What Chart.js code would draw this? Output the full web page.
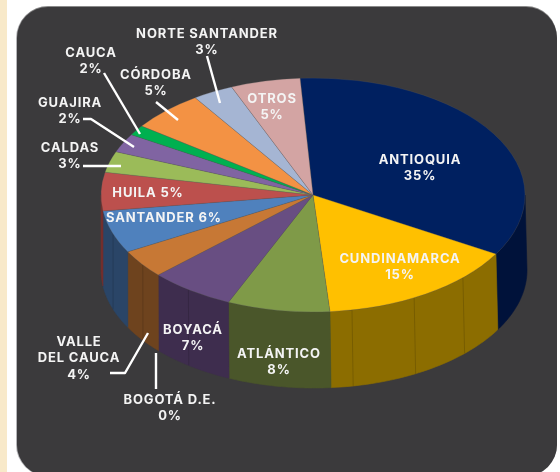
<!DOCTYPE html>
<html>
<head>
<meta charset="utf-8">
<script src="https://cdn.jsdelivr.net/npm/chart.js@4"></script>
<style>
html,body{margin:0;padding:0;background:#fff;width:560px;height:472px;overflow:hidden}
#strip{position:absolute;left:0;top:0;width:7px;height:472px;background:#F8E9C9}
#card{position:absolute;left:17px;top:7px;width:540px;height:469px;background:#3B3A3C;border-radius:31px;box-shadow:0 -1px 0 #8a8a8a, -1px 0 0 #b5b5b8}
canvas{position:absolute;left:0;top:0}
</style>
</head>
<body>
<div id="strip"></div>
<div id="card"></div>
<canvas id="c" width="560" height="472"></canvas>
<script>
const categories = ["ANTIOQUIA","CUNDINAMARCA","ATLÁNTICO","BOYACÁ","BOGOTÁ D.E.","VALLE DEL CAUCA","SANTANDER","HUILA","CALDAS","GUAJIRA","CAUCA","CÓRDOBA","NORTE SANTANDER","OTROS"];
const shares = [34.4,15.3,7.8,6.5,0,3.9,5.9,5.3,2.9,2.6,1.4,5.6,3.1,5.3];
const percentLabels = ["35%","15%","8%","7%","0%","4%","6%","5%","3%","2%","2%","5%","3%","5%"];
const topColors = ["#002060","#FFC000","#7F9A48","#684E82","#C0504D","#C77835","#4F81BD","#BC504D","#9BBB59","#8064A2","#00B050","#F39244","#A5B5D3","#D3A4A3"];
const wallColors = ["#00123A","#8C6D00","#4A562A","#3E2D4E","#742F2E","#6E431E","#2A4567","#742F2E","#5E7035","#4D3C62","#006A30","#945829","#63707F","#806262"];

const card = {cx:313, cy:195, rx:212, ry:117, depth:75};
const seams = [135,151.5,169.4,216,233.4,250.6];
const labelLayout = [
  {i:0,  lines:["ANTIOQUIA"], x:420, y:160},
  {i:1,  lines:["CUNDINAMARCA"], x:400, y:259},
  {i:2,  lines:["ATLÁNTICO"], x:279, y:354},
  {i:3,  lines:["BOYACÁ"], x:193, y:330},
  {i:4,  lines:["BOGOTÁ D.E."], x:170, y:400},
  {i:5,  lines:["VALLE","DEL CAUCA"], x:79, y:342},
  {i:6,  lines:["SANTANDER"], x:164, y:218, inline:true},
  {i:7,  lines:["HUILA"], x:148, y:193, inline:true},
  {i:8,  lines:["CALDAS"], x:70, y:148},
  {i:9,  lines:["GUAJIRA"], x:70, y:103},
  {i:10, lines:["CAUCA"], x:91, y:53},
  {i:11, lines:["CÓRDOBA"], x:156, y:75},
  {i:12, lines:["NORTE SANTANDER"], x:207, y:34},
  {i:13, lines:["OTROS"], x:272, y:99}
];
const leaders = [
  [[207,56],[220,103]],
  [[104,73],[140,134]],
  [[156,102],[178,120]],
  [[83,119],[91,119],[134,147]],
  [[83,166],[121,166]],
  [[110,373],[125,373],[148,333]],
  [[156,353],[156,389]]
];

const pie3d = {
  id:'pie3d',
  beforeDatasetsDraw(chart){
    const ctx = chart.ctx, arcs = chart.getDatasetMeta(0).data, g = card;
    const pt = (t,off)=> off
      ? [g.cx+1+(g.rx+1)*Math.cos(t), g.cy+g.depth+(g.ry+1)*Math.sin(t)]
      : [g.cx+g.rx*Math.cos(t), g.cy+g.ry*Math.sin(t)];
    arcs.forEach((a,idx)=>{
      for (const shift of [0, 2*Math.PI]) {
        const s = Math.max(a.startAngle-shift, 0), e = Math.min(a.endAngle-shift, Math.PI);
        if (e<=s) continue;
        ctx.beginPath();
        const n = 40;
        for (let k=0;k<=n;k++){const p=pt(s+(e-s)*k/n,false); k?ctx.lineTo(p[0],p[1]):ctx.moveTo(p[0],p[1]);}
        for (let k=n;k>=0;k--){const p=pt(s+(e-s)*k/n,true); ctx.lineTo(p[0],p[1]);}
        ctx.closePath();
        ctx.fillStyle = wallColors[idx]; ctx.fill();
        ctx.strokeStyle = wallColors[idx]; ctx.lineWidth = .6; ctx.stroke();
      }
    });
    ctx.strokeStyle='rgba(0,0,0,.15)'; ctx.lineWidth=1;
    seams.forEach(d=>{
      const t=(d-90)*Math.PI/180, p=pt(t,false), q=pt(t,true);
      ctx.beginPath(); ctx.moveTo(p[0],p[1]); ctx.lineTo(q[0],q[1]); ctx.stroke();
    });
    const a0 = arcs[0];
    ctx.save();
    ctx.translate(g.cx,g.cy);
    ctx.scale(1,g.ry/g.rx);
    ctx.translate(-a0.x,-a0.y);
  },
  afterDatasetsDraw(chart){
    const ctx = chart.ctx;
    ctx.restore();
    ctx.strokeStyle='#fff'; ctx.lineWidth=2.4; ctx.lineJoin='round'; ctx.lineCap='butt';
    leaders.forEach(path=>{
      ctx.beginPath();
      path.forEach((p,k)=>k?ctx.lineTo(p[0],p[1]):ctx.moveTo(p[0],p[1]));
      ctx.stroke();
    });
    ctx.fillStyle='#F4F4F4';
    ctx.font='700 13px Inter, "Liberation Sans", sans-serif';
    ctx.letterSpacing='0.85px';
    ctx.textAlign='center'; ctx.textBaseline='middle';
    labelLayout.forEach(l=>{
      const pct = percentLabels[l.i];
      if (l.inline){ ctx.fillText(l.lines[0]+' '+pct, l.x, l.y); return; }
      l.lines.forEach((t,k)=>ctx.fillText(t,l.x,l.y+k*16.5));
      ctx.fillText(pct,l.x,l.y+l.lines.length*16.5);
    });
  }
};

new Chart(document.getElementById('c'),{
  type:'pie',
  data:{labels:categories,datasets:[{data:shares,backgroundColor:topColors,borderColor:'rgba(90,90,90,.55)',borderWidth:.6,clip:false}]},
  options:{
    responsive:false,animation:false,
    rotation:-3.5,radius:212,
    layout:{padding:{left:66}},
    plugins:{legend:{display:false},tooltip:{enabled:false},title:{display:false}}
  },
  plugins:[pie3d]
});
</script>
</body>
</html>
